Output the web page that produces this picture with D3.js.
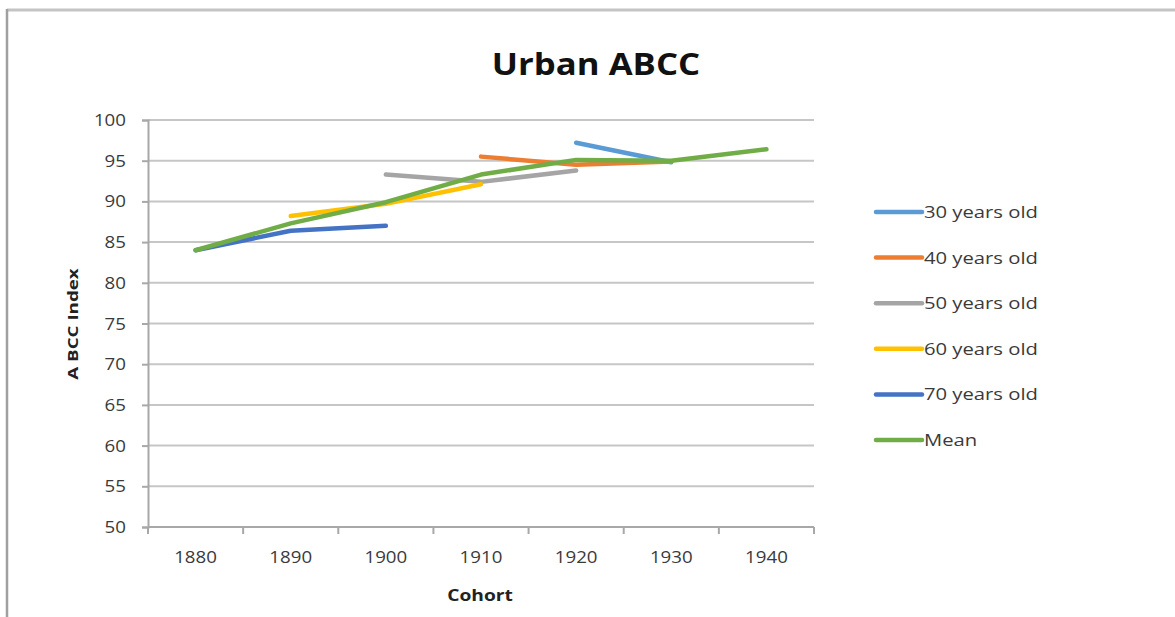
<!DOCTYPE html>
<html>
<head>
<meta charset="utf-8">
<script src="https://cdn.jsdelivr.net/npm/d3@7"></script>
<style>
  html, body { margin: 0; padding: 0; background: #fff; }
  svg { display: block; font-family: "Open Sans", "Noto Sans", sans-serif; }
</style>
</head>
<body>
<svg id="chart" width="1175" height="617"></svg>
<script>
// Birth cohorts on the x axis
const cohorts = ["1880", "1890", "1900", "1910", "1920", "1930", "1940"];
const yTicks = [50, 55, 60, 65, 70, 75, 80, 85, 90, 95, 100];

// ABCC index per age group (null where not observed)
const age30 = [null, null, null, null, 97.2, 94.8, null];
const age40 = [null, null, null, 95.5, 94.5, 94.9, null];
const age50 = [null, null, 93.3, 92.4, 93.8, null, null];
const age60 = [null, 88.2, 89.7, 92.1, null, null, null];
const age70 = [84.0, 86.4, 87.0, null, null, null, null];
const meanVals = [84.0, 87.3, 89.9, 93.3, 95.1, 95.0, 96.4];

const seriesNames = ["30 years old", "40 years old", "50 years old", "60 years old", "70 years old", "Mean"];
const seriesColors = ["#5b9bd5", "#ed7d31", "#a5a5a5", "#ffc000", "#4472c4", "#70ad47"];
const seriesData = [age30, age40, age50, age60, age70, meanVals];

const svg = d3.select("#chart");

// Place a text at (x, y) with a widened glyph run
function wideText(parent, x, y, sx, rotate) {
  const rot = rotate ? ` rotate(${rotate})` : "";
  return parent.append("text")
    .attr("transform", `translate(${x},${y})${rot} scale(${sx},1)`);
}

// Outer frame lines
svg.append("line").attr("x1", 7).attr("x2", 1175).attr("y1", 10).attr("y2", 10)
  .attr("stroke", "#c4c4c4").attr("stroke-width", 3);
svg.append("line").attr("x1", 7).attr("x2", 7).attr("y1", 9).attr("y2", 617)
  .attr("stroke", "#a0a0a0").attr("stroke-width", 2.5);

const plot = { left: 148, right: 814, top: 120, bottom: 527 };

const x = d3.scaleBand().domain(cohorts).range([plot.left, plot.right]);
const y = d3.scaleLinear().domain([50, 100]).range([plot.bottom, plot.top]);

// Horizontal gridlines
svg.append("g").selectAll("line").data(yTicks.filter(v => v > 50)).join("line")
  .attr("x1", plot.left).attr("x2", plot.right)
  .attr("y1", d => y(d)).attr("y2", d => y(d))
  .attr("stroke", "#c6c6c6").attr("stroke-width", 2);

// Y axis (domain and ticks from d3, labels widened separately)
const yAxis = svg.append("g").attr("transform", `translate(${plot.left},0)`)
  .call(d3.axisLeft(y).tickValues(yTicks).tickSize(6).tickFormat(""));
yAxis.select(".domain").attr("stroke", "#a8a8a8").attr("stroke-width", 2);
yAxis.selectAll(".tick line").attr("stroke", "#a8a8a8").attr("stroke-width", 2);
const yLabels = svg.append("g");
yTicks.forEach(v => {
  wideText(yLabels, plot.left - 22, y(v) + 6, 1.17)
    .attr("text-anchor", "end").attr("font-size", 16).attr("fill", "#3a3a3a")
    .text(d3.format("d")(v));
});

// X axis with ticks at band boundaries
const xAxisG = svg.append("g").attr("transform", `translate(0,${plot.bottom})`);
xAxisG.append("line").attr("x1", plot.left).attr("x2", plot.right)
  .attr("y1", 0).attr("y2", 0).attr("stroke", "#a8a8a8").attr("stroke-width", 2);
const boundaries = cohorts.map(c => x(c)).concat([x(cohorts[cohorts.length - 1]) + x.bandwidth()]);
xAxisG.selectAll("line.tk").data(boundaries).join("line").attr("class", "tk")
  .attr("x1", d => d).attr("x2", d => d).attr("y1", 0).attr("y2", 7)
  .attr("stroke", "#a8a8a8").attr("stroke-width", 2);
cohorts.forEach(c => {
  wideText(xAxisG, x(c) + x.bandwidth() / 2, 36, 1.17)
    .attr("text-anchor", "middle").attr("font-size", 16).attr("fill", "#3a3a3a")
    .text(c);
});

// Series lines
const line = d3.line()
  .defined(d => d != null)
  .x((d, i) => x(cohorts[i]) + x.bandwidth() / 2)
  .y(d => y(d));

seriesData.forEach((vals, i) => {
  svg.append("path").datum(vals)
    .attr("d", line)
    .attr("fill", "none")
    .attr("stroke", seriesColors[i])
    .attr("stroke-width", 4.5)
    .attr("stroke-linecap", "round")
    .attr("stroke-linejoin", "round");
});

// Title
wideText(svg, 596, 75, 1.12).attr("text-anchor", "middle")
  .attr("font-size", 31).attr("font-weight", "bold").attr("fill", "#111")
  .text("Urban ABCC");

// Axis titles
wideText(svg, 480, 601, 1.2).attr("text-anchor", "middle")
  .attr("font-size", 16).attr("font-weight", "bold").attr("fill", "#222")
  .text("Cohort");
wideText(svg, 78, 324, 1.25, -90).attr("text-anchor", "middle")
  .attr("font-size", 15).attr("font-weight", "bold").attr("fill", "#222")
  .text("A BCC Index");

// Legend
const legend = svg.append("g");
const legendY = d3.scalePoint().domain(seriesNames).range([212, 440]);
seriesNames.forEach((name, i) => {
  const ly = legendY(name);
  legend.append("line").attr("x1", 876).attr("x2", 922).attr("y1", ly).attr("y2", ly)
    .attr("stroke", seriesColors[i]).attr("stroke-width", 4.5).attr("stroke-linecap", "round");
  wideText(legend, 924, ly + 6, 1.19)
    .attr("font-size", 17).attr("fill", "#3a3a3a").text(name);
});
</script>
</body>
</html>
